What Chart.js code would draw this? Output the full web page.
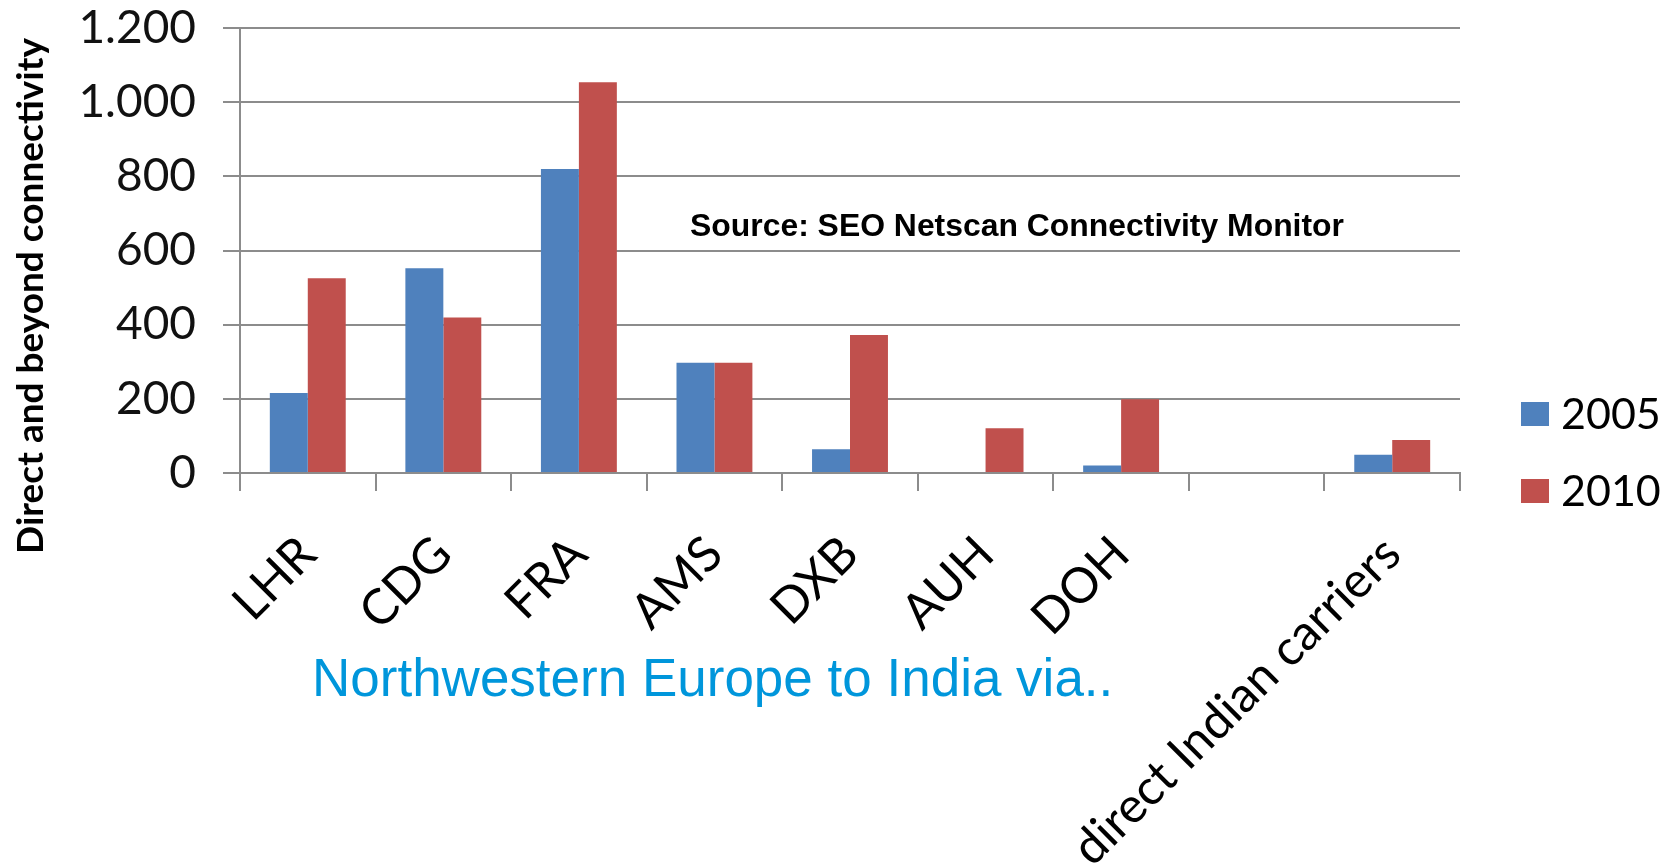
<!DOCTYPE html>
<html>
<head>
<meta charset="utf-8">
<script src="https://cdn.jsdelivr.net/npm/chart.js@4"></script>
<style>
  html, body { margin: 0; padding: 0; background: #fff; }
  #wrap { width: 1673px; height: 867px; }
</style>
</head>
<body>
<div id="wrap"><canvas id="chart1" width="1673" height="867"></canvas></div>
<script>
// airports / routes on the x axis (8th slot is empty in the original)
const categories = ['LHR', 'CDG', 'FRA', 'AMS', 'DXB', 'AUH', 'DOH', '', 'direct Indian carriers'];
const seriesNames = ['2005', '2010'];
const values2005 = [216, 552, 820, 297, 64, 0, 20, 0, 49];
const values2010 = [525, 419, 1054, 297, 372, 121, 199, 0, 89];
const yTicks = [0, 200, 400, 600, 800, 1000, 1200];

const gridColor = '#8c8c8c';

// extra texts + legend, drawn on top of the chart
const extrasPlugin = {
    id: 'extras',
    afterDraw(chart) {
        const ctx = chart.ctx;
        ctx.save();
        // y axis title
        ctx.save();
        ctx.translate(31, 296);
        ctx.rotate(-Math.PI / 2);
        ctx.fillStyle = '#000';
        ctx.font = 'bold 37px Lato';
        ctx.textAlign = 'center';
        ctx.textBaseline = 'middle';
        ctx.fillText('Direct and beyond connectivity', 0, 0, 517);
        ctx.restore();

        // source note
        ctx.fillStyle = '#000';
        ctx.font = 'bold 32px "Liberation Sans"';
        ctx.textAlign = 'left';
        ctx.textBaseline = 'alphabetic';
        ctx.fillText('Source: SEO Netscan Connectivity Monitor', 690, 236, 654);

        // axis subtitle
        ctx.fillStyle = '#0096DB';
        ctx.font = '53px "Liberation Sans"';
        ctx.fillText('Northwestern Europe to India via..', 312, 696, 803);

        // legend
        const rows = [414, 491];
        chart.data.datasets.forEach((ds, i) => {
            const cy = rows[i];
            ctx.fillStyle = ds.backgroundColor;
            ctx.fillRect(1521, cy - 12, 28, 24);
            ctx.fillStyle = '#000';
            ctx.font = '43px Lato';
            ctx.textBaseline = 'middle';
            ctx.fillText(ds.label, 1561, cy + 1);
        });
        ctx.restore();
    }
};

const data1 = {
    labels: categories,
    datasets: [{
        label: seriesNames[0],
        data: values2005,
        backgroundColor: '#4F81BD'
    }, {
        label: seriesNames[1],
        data: values2010,
        backgroundColor: '#C0504D'
    }]
};

const config1 = {
    type: 'bar',
    data: data1,
    options: {
        responsive: false,
        animation: false,
        layout: {
            padding: { left: 0, right: 213, top: 28, bottom: 0 }
        },
        datasets: {
            bar: {
                categoryPercentage: 0.56,
                barPercentage: 1.0
            }
        },
        plugins: {
            legend: { display: false },
            tooltip: { enabled: false }
        },
        scales: {
            x: {
                afterFit(scale) {
                    scale.height = 394;
                    scale.paddingLeft = 0;
                    scale.paddingRight = 0;
                },
                grid: {
                    display: true,
                    offset: true,
                    drawOnChartArea: false,
                    drawTicks: true,
                    tickLength: 18,
                    color: gridColor,
                    lineWidth: 2
                },
                border: { color: gridColor, width: 2 },
                ticks: {
                    autoSkip: false,
                    minRotation: 45,
                    maxRotation: 45,
                    padding: 34,
                    color: '#000',
                    font: { family: 'Lato', size: 49 }
                }
            },
            y: {
                min: 0,
                max: 1200,
                afterFit(scale) {
                    scale.width = 240;
                    scale.paddingTop = 0;
                    scale.paddingBottom = 0;
                },
                afterBuildTicks(scale) {
                    scale.ticks = yTicks.map(v => ({ value: v }));
                },
                grid: {
                    color: gridColor,
                    lineWidth: 2,
                    drawTicks: true,
                    tickLength: 17
                },
                border: { color: gridColor, width: 2 },
                ticks: {
                    padding: 27,
                    color: '#111',
                    font: { family: 'Lato', size: 46 },
                    callback: v => v >= 1000 ? (v / 1000).toFixed(3) : String(v)
                }
            }
        }
    },
    plugins: [extrasPlugin]
};

const chart1 = new Chart(document.getElementById('chart1').getContext('2d'), config1);
</script>
</body>
</html>
